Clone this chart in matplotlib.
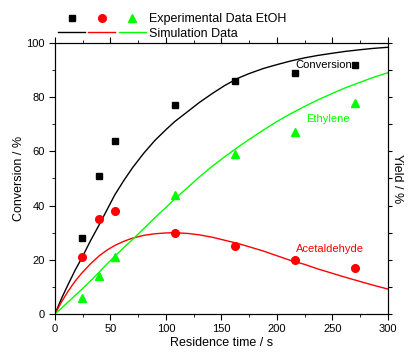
import matplotlib.pyplot as plt
from matplotlib.legend_handler import HandlerTuple
from matplotlib.ticker import MultipleLocator

plt.rcParams['font.family'] = ['Liberation Sans', 'DejaVu Sans']

# --- DATA ---
exp_time = [24, 40, 54, 108, 162, 216, 270]
exp_conversion = [28, 51, 64, 77, 86, 89, 92]
exp_acetaldehyde = [21, 35, 38, 30, 25, 20, 17]
exp_ethylene = [6, 14, 21, 44, 59, 67, 78]

sim_time = [0, 6, 12, 18, 24, 32, 40, 47, 54, 62, 70, 80, 90, 100, 108, 120,
            130, 142, 153, 165, 175, 188, 200, 212, 225, 237, 250, 262, 275, 287, 300]
sim_conversion = [0, 5.8, 11, 16, 20.5, 27, 33, 38.5, 44, 49.2, 54, 59.3, 64, 68, 71, 74.8,
                  78, 81.4, 84.3, 87, 88.7, 90.6, 92, 93.3, 94.5, 95.4, 96.2, 96.9, 97.5, 98, 98.4]
sim_ethylene = [0, 2.2, 4.5, 6.8, 9, 12.2, 15.5, 18.5, 21.3, 24.5, 27.5, 31.5, 35.5, 39.3, 42.5, 46.8,
                50.5, 54.6, 58, 61.6, 64.4, 67.9, 71, 73.8, 76.6, 79, 81.4, 83.5, 85.5, 87.3, 89]
sim_acetaldehyde = [0, 4.5, 8.5, 12, 15, 18.5, 21.5, 23.6, 25.3, 26.8, 28, 29, 29.6, 29.9, 30, 29.7,
                    29.2, 28.3, 27.2, 26, 24.8, 23.2, 21.5, 19.8, 18.3, 16.6, 15, 13.5, 12, 10.6, 9.2]

GREEN = '#00ff00'
RED = '#ff0000'


def make_plot():
    fig = plt.figure(figsize=(4.1, 3.52), dpi=100)
    ax = fig.add_axes([0.134, 0.108, 0.812, 0.770])

    l1, = ax.plot(sim_time, sim_conversion, color='black', lw=1)
    l2, = ax.plot(sim_time, sim_acetaldehyde, color=RED, lw=1)
    l3, = ax.plot(sim_time, sim_ethylene, color=GREEN, lw=1)
    m1, = ax.plot(exp_time, exp_conversion, 's', color='black', ms=5, ls='none')
    m2, = ax.plot(exp_time, exp_acetaldehyde, 'o', color=RED, ms=5.5, ls='none')
    m3, = ax.plot(exp_time, exp_ethylene, '^', color=GREEN, ms=6, ls='none')

    ax.text(217, 92, 'Conversion', fontsize=8, color='black', va='center')
    ax.text(226, 72, 'Ethylene', fontsize=8, color=GREEN, va='center')
    ax.text(217, 24, 'Acetaldehyde', fontsize=8, color=RED, va='center')

    ax.set_xlim(0, 300)
    ax.set_ylim(0, 100)
    ax.xaxis.set_major_locator(MultipleLocator(50))
    ax.xaxis.set_minor_locator(MultipleLocator(25))
    ax.yaxis.set_major_locator(MultipleLocator(20))
    ax.yaxis.set_minor_locator(MultipleLocator(10))
    ax.tick_params(which='both', direction='out', labelsize=8, top=True, right=False)
    ax.tick_params(which='major', length=4)
    ax.tick_params(which='minor', length=2.5)
    ax.set_xlabel('Residence time / s', fontsize=9, labelpad=2)
    ax.set_ylabel('Conversion / %', fontsize=9, labelpad=1)

    ax2 = ax.twinx()
    ax2.set_ylim(0, 100)
    ax2.yaxis.set_major_locator(MultipleLocator(10))
    ax2.tick_params(direction='out', length=3, labelright=False)
    ax2.set_ylabel('Yield / %', fontsize=9, rotation=270, labelpad=8)

    fig.legend([(m1, m2, m3), (l1, l2, l3)],
               ['Experimental Data EtOH', 'Simulation Data'],
               handler_map={tuple: HandlerTuple(ndivide=None, pad=0.25)},
               loc='upper left', bbox_to_anchor=(0.122, 0.986), frameon=False,
               fontsize=9, handlelength=7.0, handletextpad=0.3,
               labelspacing=0.2, borderaxespad=0.25)

    fig.savefig('out.png', dpi=100)


if __name__ == '__main__':
    make_plot()
